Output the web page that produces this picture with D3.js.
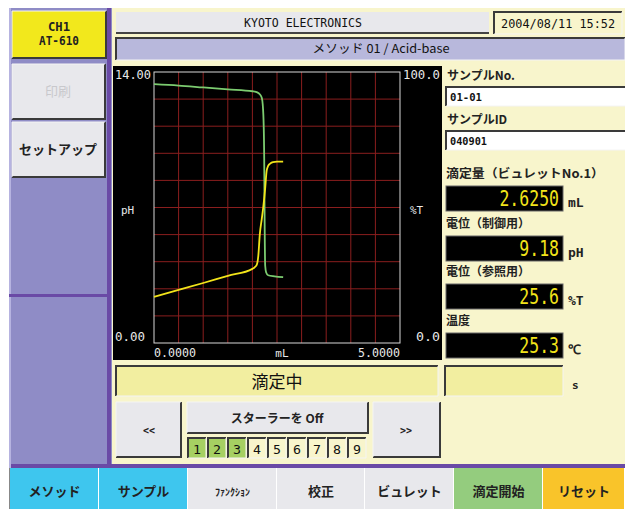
<!DOCTYPE html>
<html><head><meta charset="utf-8">
<script src="https://cdn.jsdelivr.net/npm/d3@7"></script>
<style>body{margin:0;background:#fff}svg{display:block}</style>
</head><body><svg id="c" width="625" height="509"></svg>
<script>
// ---- data ----
const volumePH = [0, 0.5, 1.0, 1.5, 2.0, 2.05, 2.09, 2.12, 2.15, 2.19, 2.22, 2.26, 2.29, 2.32, 2.36, 2.42, 2.5, 2.625];
const pHValues = [2.38, 2.74, 3.10, 3.47, 3.83, 3.92, 4.05, 4.5, 5.6, 6.4, 7.0, 8.0, 8.9, 9.15, 9.27, 9.35, 9.37, 9.37];
const volumeT = [0, 0.5, 1.0, 1.5, 2.0, 2.1, 2.15, 2.19, 2.21, 2.23, 2.24, 2.245, 2.25, 2.26, 2.28, 2.32, 2.45, 2.625];
const transValues = [95.5, 95.0, 94.3, 93.6, 92.9, 92.5, 91.8, 90.5, 88.0, 80.0, 68.0, 55.0, 42.0, 28.5, 26.0, 25.0, 24.6, 24.3];
const xDomain = [0, 5];
const pHDomain = [0, 14];
const tDomain = [0, 100];
const xTickLabels = ["0.0000", "mL", "5.0000"];
const leftTickLabels = ["14.00", "pH", "0.00"];
const rightTickLabels = ["100.0", "%T", "0.0"];
const readoutLabels = ["滴定量（ビュレットNo.1）", "電位（制御用）", "電位（参照用）", "温度"];
const readoutValues = ["2.6250", "9.18", "25.6", "25.3"];
const readoutUnits = ["mL", "pH", "%T", "℃"];
const toolbarLabels = ["メソッド", "サンプル", "ﾌｧﾝｸｼｮﾝ", "校正", "ビュレット", "滴定開始", "リセット"];
const stirrerNumbers = ["1", "2", "3", "4", "5", "6", "7", "8", "9"];
const activeStirrers = 3;

// ---- drawing ----
const svg = d3.select("#c");
const JP = "'Noto Sans CJK JP', sans-serif";
const MONO = "'DejaVu Sans Mono', monospace";
const DARK = "#3a3a3a";

function bevel(x, y, w, h, fill, inset) {
  svg.append("rect").attr("x", x).attr("y", y).attr("width", w).attr("height", h).attr("fill", fill);
  const d1 = `M${x},${y+h}V${y}H${x+w}`, d2 = `M${x+w},${y}V${y+h}H${x}`;
  svg.append("path").attr("d", inset ? d1 : d2).attr("fill", "none").attr("stroke", DARK).attr("stroke-width", 2);
  svg.append("path").attr("d", inset ? d2 : d1).attr("fill", "none").attr("stroke", "#f4f4f4").attr("stroke-width", 1);
}
function txt(x, y, s, o = {}) {
  const t = svg.append("text").attr("x", x).attr("y", y).text(s)
    .attr("font-family", o.font || JP).attr("font-size", o.size || 12)
    .attr("font-weight", o.weight || "bold").attr("fill", o.fill || "#222")
    .attr("text-anchor", o.anchor || "start");
  if (o.len) t.attr("textLength", o.len).attr("lengthAdjust", "spacingAndGlyphs");
  return t;
}

// frame
svg.append("rect").attr("x", 9).attr("y", 8).attr("width", 103).attr("height", 460).attr("fill", "#8f8cc6");
svg.append("rect").attr("x", 112).attr("y", 8).attr("width", 513).attr("height", 458).attr("fill", "#f8f5cc");
svg.append("rect").attr("x", 107).attr("y", 8).attr("width", 4).attr("height", 460).attr("fill", "#6a4aa6");
svg.append("rect").attr("x", 9).attr("y", 464).attr("width", 616).attr("height", 4).attr("fill", "#6a4aa6");
svg.append("rect").attr("x", 9).attr("y", 8).attr("width", 2).attr("height", 460).attr("fill", "#b6b3e0");
svg.append("rect").attr("x", 9).attr("y", 294).attr("width", 98).attr("height", 3).attr("fill", "#6a4aa6");

// left buttons
bevel(12, 11, 94, 47, "#f2e81c", false);
txt(59, 31, "CH1", {font: MONO, size: 12, anchor: "middle", len: 22});
txt(59, 45, "AT-610", {font: MONO, size: 13, anchor: "middle", len: 40});
bevel(12, 64, 93, 55, "#e8e8ec", false);
txt(58, 96, "印刷", {fill: "#c8c8cc", anchor: "middle", size: 13, weight: "normal"});
bevel(12, 122, 93, 55, "#e8e8ec", false);
txt(58, 154, "セットアップ", {anchor: "middle", size: 13});

// header
svg.append("rect").attr("x", 116).attr("y", 12).attr("width", 373).attr("height", 21).attr("fill", "#e8e8ec");
svg.append("rect").attr("x", 116).attr("y", 32).attr("width", 373).attr("height", 2).attr("fill", "#444");
txt(303, 27, "KYOTO ELECTRONICS", {font: MONO, size: 12, anchor: "middle", len: 118, weight: "normal", fill: "#111"});
bevel(494, 12, 128, 22, "#f8f5cc", true);
txt(558, 28, "2004/08/11 15:52", {font: MONO, size: 12, anchor: "middle", len: 114, weight: "normal", fill: "#111"});
bevel(116, 38, 509, 22, "#b8b8dc", true);
txt(381, 53, "メソッド 01 / Acid-base", {font: JP, size: 12, anchor: "middle", weight: "normal", fill: "#111", len: 137});

// plot panel
svg.append("rect").attr("x", 113).attr("y", 66).attr("width", 329).attr("height", 294).attr("fill", "#000");
const pl = 154, pr = 400, pt = 72, pb = 343;
const x = d3.scaleLinear().domain(xDomain).range([pl, pr]);
const yPH = d3.scaleLinear().domain(pHDomain).range([pb, pt]);
const yT = d3.scaleLinear().domain(tDomain).range([pb, pt]);
const grid = svg.append("g").attr("stroke", "#8a1e1e").attr("stroke-width", 1);
x.ticks(10).slice(1, -1).forEach(v => grid.append("line").attr("x1", x(v)).attr("x2", x(v)).attr("y1", pt).attr("y2", pb));
yT.ticks(10).slice(1, -1).forEach(v => grid.append("line").attr("y1", yT(v)).attr("y2", yT(v)).attr("x1", pl).attr("x2", pr));
svg.append("rect").attr("x", pl).attr("y", pt).attr("width", pr - pl).attr("height", pb - pt)
  .attr("fill", "none").attr("stroke", "#d8d8d8").attr("stroke-width", 1);

const lineT = d3.line().x((d, i) => x(volumeT[i])).y(d => yT(d)).curve(d3.curveMonotoneX);
const linePH = d3.line().x((d, i) => x(volumePH[i])).y(d => yPH(d)).curve(d3.curveMonotoneX);
svg.append("path").attr("d", lineT(transValues)).attr("fill", "none").attr("stroke", "#7ccc70").attr("stroke-width", 1.8);
svg.append("path").attr("d", linePH(pHValues)).attr("fill", "none").attr("stroke", "#f2e41a").attr("stroke-width", 1.8);

const lab = {font: MONO, size: 12, weight: "normal", fill: "#e8e8e8"};
txt(115, 79, leftTickLabels[0], {...lab, len: 36});
txt(121, 214, leftTickLabels[1], {...lab, size: 11});
txt(115, 341, leftTickLabels[2], {...lab, len: 30});
txt(440, 79, rightTickLabels[0], {...lab, anchor: "end", len: 37});
txt(410, 214, rightTickLabels[1], {...lab, size: 11});
txt(440, 341, rightTickLabels[2], {...lab, anchor: "end", len: 24});
txt(x(xDomain[0]), 357, xTickLabels[0], {...lab, len: 42});
txt(x(2.6), 357, xTickLabels[1], {...lab, anchor: "middle", size: 11});
txt(x(xDomain[1]), 357, xTickLabels[2], {...lab, anchor: "end", len: 42});

// sample fields
txt(447, 80, "サンプルNo.", {size: 12});
bevel(446, 87, 182, 19, "#ffffff", true);
txt(450, 101, "01-01", {font: MONO, size: 11, len: 32, fill: "#111"});
txt(447, 124, "サンプルID", {size: 12});
bevel(446, 131, 182, 19, "#ffffff", true);
txt(450, 145, "040901", {font: MONO, size: 11, len: 37, fill: "#111"});

// readouts
const boxTops = [186, 236, 284, 333];
readoutLabels.forEach((l, i) => {
  const t = boxTops[i];
  txt(446, t - 8, l, {size: 12, len: i === 0 ? 158 : null});
  svg.append("rect").attr("x", 446).attr("y", t).attr("width", 117).attr("height", 25).attr("fill", "#000")
    .attr("stroke", "#666").attr("stroke-width", 1);
  svg.append("text").attr("transform", `translate(559,${t + 20}) scale(1,1.25)`)
    .attr("font-family", MONO).attr("font-size", 16.5).attr("fill", "#f2e41a")
    .attr("text-anchor", "end").text(readoutValues[i]);
  txt(568, t + 21, readoutUnits[i], {font: MONO, size: 13, fill: "#222"});
});

// status
bevel(116, 366, 322, 30, "#f2eea0", true);
txt(277, 388, "滴定中", {size: 17, anchor: "middle", weight: "normal", fill: "#111"});
bevel(445, 366, 118, 30, "#f2eea0", true);
txt(572, 389, "s", {font: MONO, size: 11, fill: "#222"});

// stirrer buttons
bevel(116, 402, 65, 55, "#e8e8ec", false);
txt(149, 434, "<<", {font: MONO, size: 11, anchor: "middle", len: 12});
bevel(187, 402, 181, 31, "#e8e8ec", false);
txt(277, 423, "スターラーを Off", {size: 12, anchor: "middle"});
bevel(373, 402, 67, 55, "#e8e8ec", false);
txt(406, 434, ">>", {font: MONO, size: 11, anchor: "middle", len: 12});
stirrerNumbers.forEach((n, i) => {
  const bx = 188 + i * 20;
  bevel(bx, 438, 18, 20, i < activeStirrers ? "#a6d062" : "#f8f5cc", true);
  txt(bx + 9, 454, n, {font: MONO, size: 13, anchor: "middle", weight: "normal", fill: "#111", len: 8});
});

// toolbar
const tbX = [10, 99, 188, 277, 365, 454, 543, 625];
const tbFill = ["#3ec6ee", "#3ec6ee", "#e8e8ec", "#e8e8ec", "#e8e8ec", "#94cc7e", "#f9c42a"];
toolbarLabels.forEach((l, i) => {
  svg.append("rect").attr("x", tbX[i]).attr("y", 468).attr("width", tbX[i + 1] - tbX[i] - 1).attr("height", 41).attr("fill", tbFill[i]);
  txt((tbX[i] + tbX[i + 1]) / 2, 496, l, {size: i === 2 ? 10 : 13, anchor: "middle", fill: "#222"});
});
svg.append("rect").attr("x", 9).attr("y", 468).attr("width", 1).attr("height", 41).attr("fill", "#888");
</script></body></html>
